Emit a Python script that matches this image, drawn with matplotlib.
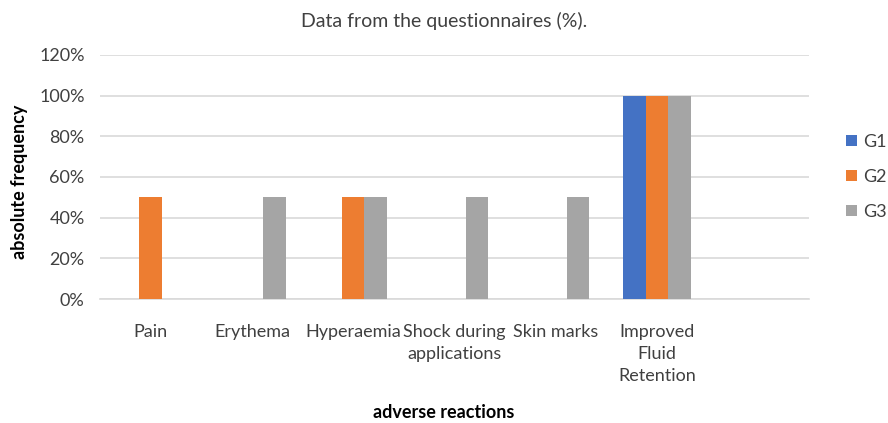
import numpy as np
import matplotlib
matplotlib.use('Agg')
import matplotlib.pyplot as plt
from matplotlib.ticker import PercentFormatter

plt.rcParams['font.family'] = ['Lato', 'DejaVu Sans']

# données
categories = ['Pain', 'Erythema', 'Hyperaemia', 'Shock during\napplications',
              'Skin marks', 'Improved\nFluid\nRetention', '']
g1 = [0, 0, 0, 0, 0, 100, 0]
g2 = [50, 0, 50, 0, 0, 100, 0]
g3 = [0, 50, 50, 50, 50, 100, 0]
series = {'G1': g1, 'G2': g2, 'G3': g3}
colors = ['#4472C4', '#ED7D31', '#A5A5A5']

fig = plt.figure(figsize=(8.88, 4.23), dpi=100)
ax = fig.add_axes([0.1126, 0.2931, 0.7984, 0.577])

x = np.arange(len(categories))
w = 0.222
for i, (name, vals) in enumerate(series.items()):
    ax.bar(x + (i - 1) * w, vals, w, color=colors[i], label=name, zorder=3)

ax.set_xlim(-0.5, len(categories) - 0.5)
ax.set_ylim(0, 120)
ax.set_yticks(range(0, 121, 20))
ax.yaxis.set_major_formatter(PercentFormatter(decimals=0))
ax.set_xticks(x)
ax.set_xticklabels(categories, fontsize=13, color='#404040', linespacing=1.45)
ax.tick_params(axis='y', labelsize=13, labelcolor='#404040', length=0, pad=11)
ax.tick_params(axis='x', length=0, pad=18)
ax.grid(axis='y', color='#d9d9d9', linewidth=1.2, zorder=0)
for s in ['top', 'right', 'left']:
    ax.spines[s].set_visible(False)
ax.spines['bottom'].set_color('#d9d9d9')
ax.spines['bottom'].set_linewidth(1.2)

# titres des axes placés à la main
fig.text(20 / 888, 0.57, 'absolute frequency', rotation=90, ha='center', va='center',
         fontsize=13, fontweight='bold')
fig.text(0.5, 0.012, 'adverse reactions', ha='center', fontsize=13, fontweight='bold')
fig.text(0.5, 0.935, 'Data from the questionnaires (%).', ha='center', fontsize=14, color='#404040')

ax.legend(loc='center left', bbox_to_anchor=(1.03, 0.5), frameon=False,
          handlelength=0.6, handleheight=0.6, handletextpad=0.3,
          labelspacing=1.05, fontsize=13, labelcolor='#404040')

fig.savefig('out.png', dpi=100)
